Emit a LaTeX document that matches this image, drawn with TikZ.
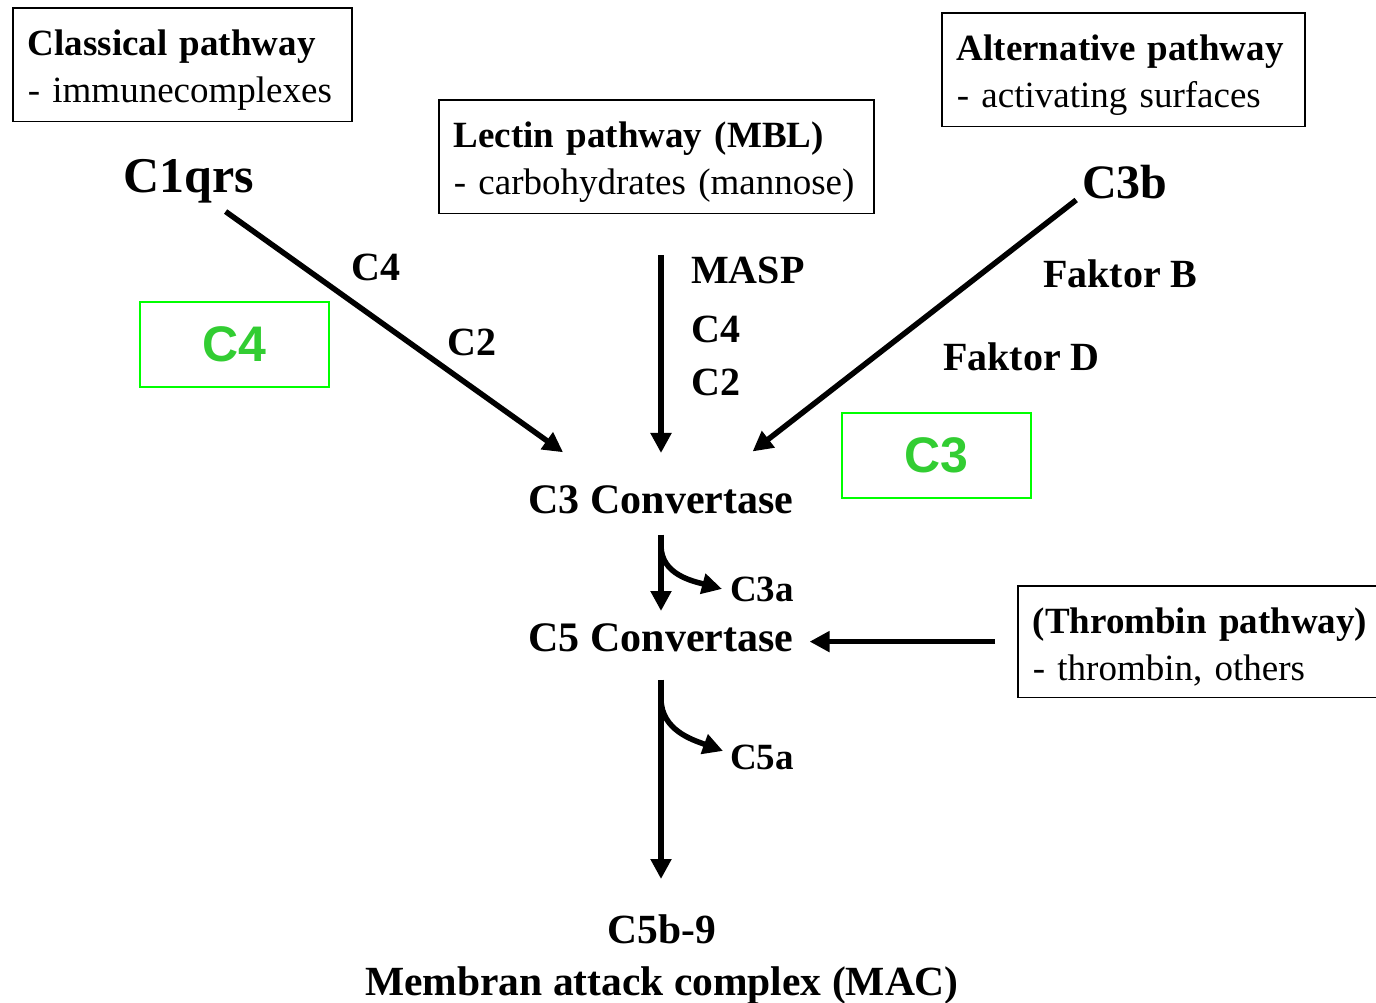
\documentclass[tikz,border=0pt]{standalone}
\usepackage{fontspec}
\setmainfont{Liberation Serif}
\newfontfamily\greenfont{Liberation Sans}
\usetikzlibrary{arrows.meta}
\definecolor{boxgreen}{RGB}{0,255,0}
\definecolor{textgreen}{RGB}{50,205,50}

\begin{document}
\begin{tikzpicture}[x=1pt,y=1pt,
    flow/.style={line width=5.5pt,-{Triangle[length=20pt,width=20pt]}},
    pathbox/.style={draw,line width=1.5pt,anchor=north west,align=left,
        inner xsep=15pt,inner ysep=11pt,font=\fontsize{37}{47}\selectfont},
    lbl/.style={anchor=base west,inner sep=0pt,font=\fontsize{40}{48}\selectfont\bfseries},
    small/.style={anchor=base west,inner sep=0pt,font=\fontsize{37}{44}\selectfont\bfseries},
    conv/.style={anchor=base,inner sep=0pt,font=\fontsize{42}{50}\selectfont\bfseries},
    greenbox/.style={draw=boxgreen,line width=2pt,minimum width=189pt,minimum height=85pt,
        text=textgreen,font=\fontsize{50}{60}\selectfont\greenfont\bfseries}]

\useasboundingbox (0,0) rectangle (1376,-1002);
\clip (0,0) rectangle (1376,-1002);

% pathway boxes
\node[pathbox,text width=309pt] (classical) at (12,-7)
    {\rule{0pt}{37pt}\textbf{Classical pathway}\\- immunecomplexes};
\node[pathbox,text width=405pt] (lectin) at (438,-99)
    {\rule{0pt}{37pt}\textbf{Lectin pathway (MBL)}\\- carbohydrates (mannose)};
\node[pathbox,text width=333pt] (alternative) at (941,-12)
    {\rule{0pt}{37pt}\textbf{Alternative pathway}\\- activating surfaces};
\node[pathbox,text width=420pt] (thrombin) at (1017,-585)
    {\rule{0pt}{37pt}\textbf{(Thrombin pathway)}\\- thrombin, others};

% starting components
\node[anchor=base west,inner sep=0pt,font=\fontsize{50}{60}\selectfont\bfseries] (c1qrs) at (123,-192) {C1qrs};
\node[anchor=base west,inner sep=0pt,font=\fontsize{48}{58}\selectfont\bfseries] (c3b) at (1082,-198) {C3b};

% factors along the arrows
\node[lbl] (clc4) at (351,-280) {C4};
\node[lbl] (clc2) at (447,-355) {C2};
\node[lbl] (masp) at (691,-283) {MASP};
\node[lbl] (lec4) at (691,-342) {C4};
\node[lbl] (lec2) at (691,-395) {C2};
\node[lbl] (fakb) at (1043,-287) {Faktor B};
\node[lbl] (fakd) at (943,-370) {Faktor D};

\node[greenbox] (greenc4) at (234.5,-344.5) {C4};
\node[greenbox] (greenc3) at (936.5,-455.5) {C3};

% cascade
\node[conv] (c3conv) at (661,-513) {C3 Convertase};
\node[small] (c3a) at (730,-601) {C3a};
\node[conv] (c5conv) at (661,-651) {C5 Convertase};
\node[small] (c5a) at (730,-769) {C5a};
\node[conv,font=\fontsize{41.5}{50}\selectfont\bfseries] (c5b9) at (662,-943) {C5b-9};
\node[conv,font=\fontsize{41.5}{50}\selectfont\bfseries] (mac) at (662,-995) {Membran attack complex (MAC)};

\draw[flow,shorten <=53pt,shorten >=81pt] ([xshift=-6pt]c1qrs.center) -- ([xshift=-32pt]c3conv.center);
\draw[flow,shorten <=41pt,shorten >=32pt] (lectin.south -| c3conv.north) -- (c3conv.north);
\draw[flow,shorten <=30pt,shorten >=78pt] ([xshift=-25pt]c3b.center) -- ([xshift=30pt]c3conv.center);

\draw[flow,shorten <=21pt,shorten >=12pt] (c3conv.south) -- (c3conv.south |- c5conv.north);
\draw[flow] ([yshift=-32pt]c3conv.south) to[out=-90,in=165] ([xshift=-8pt]c3a.west);
\draw[flow,shorten <=22pt,shorten >=16pt] (thrombin.west) -- (thrombin.west -| c5conv.east);
\draw[flow,shorten <=28pt,shorten >=35pt] (c5conv.south) -- (c5conv.south |- c5b9.north);
\draw[flow] ([yshift=-47pt]c5conv.south) to[out=-90,in=160] ([xshift=-7pt,yshift=6pt]c5a.west);
\end{tikzpicture}
\end{document}
